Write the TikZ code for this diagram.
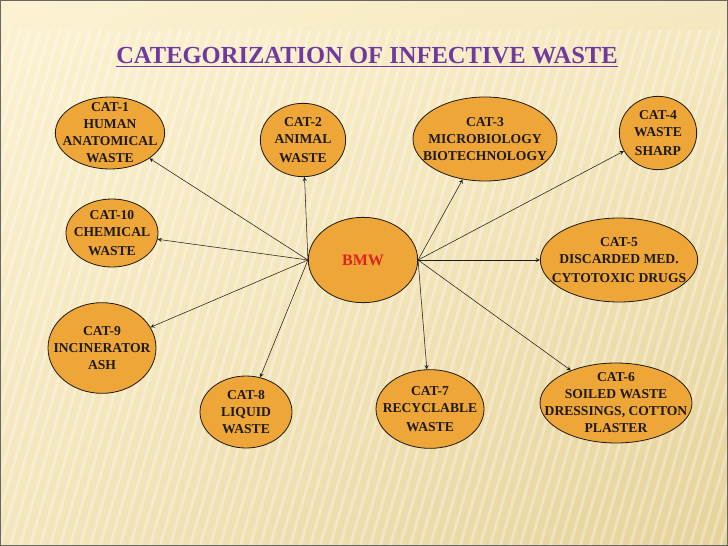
\documentclass[tikz,border=0pt]{standalone}
\usepackage{fontspec}
\setmainfont{Liberation Serif}
\usetikzlibrary{shapes.geometric,shadings}

\definecolor{creamtop}{HTML}{FCF2D2}
\definecolor{creambot}{HTML}{E6D29A}
\definecolor{catorange}{HTML}{EEA638}
\definecolor{titlepurple}{HTML}{6E3A9E}
\definecolor{bmwred}{HTML}{E0231A}
\definecolor{inkdark}{HTML}{1E1A14}

\tikzset{
    catnode/.style={ellipse, draw=inkdark, fill=catorange, line width=0.6pt,
        inner sep=0pt},
    cattext/.style={align=center, text=inkdark, inner sep=0pt,
        font=\bfseries\fontsize{10.2}{12.75}\selectfont},
    catarrow/.style={->, >=stealth, thin, inkdark}
}

\begin{document}
\begin{tikzpicture}[x=0.75pt, y=-0.75pt]
    \useasboundingbox (0,0) rectangle (728,546);
    % Fond
    \shade[upper left=creamtop, upper right=creamtop!70!creambot,
        lower left=creamtop!60!creambot, lower right=creambot]
        (0,0) rectangle (728,546);
    \begin{scope}
        \clip (0,30) rectangle (728,546);
        \foreach \k in {-300,-290,...,740}
            \draw[white, opacity=0.3, line width=2.2pt] (\k,546) -- (\k+150,30);
    \end{scope}
    \draw[gray!80!black, line width=0.8pt] (0,0) rectangle (728,546);

    % Titre
    \node[text=titlepurple, font=\bfseries\fontsize{18.4}{21}\selectfont] (title) at (367,57)
        {\underline{CATEGORIZATION OF INFECTIVE WASTE}};

    % Centre
    \node[catnode, minimum width=82pt, minimum height=64pt,
        label={[cattext, text=bmwred, font=\bfseries\fontsize{12}{14}\selectfont]center:BMW}]
        (bmw) at (363,260) {};

    % Categories
    \node[catnode, minimum width=82pt, minimum height=54pt,
        label={[cattext]center:CAT-1\\HUMAN\\ANATOMICAL\\WASTE}] (cat1) at (110,133) {};
    \node[catnode, minimum width=64pt, minimum height=55pt,
        label={[cattext]center:CAT-2\\ANIMAL\\[2pt]WASTE}] (cat2) at (303,140) {};
    \node[catnode, minimum width=108pt, minimum height=63pt,
        label={[cattext]center:CAT-3\\MICROBIOLOGY\\BIOTECHNOLOGY}] (cat3) at (485,139) {};
    \node[catnode, minimum width=58pt, minimum height=55pt,
        label={[cattext]center:CAT-4\\WASTE\\[2pt]SHARP}] (cat4) at (658,133) {};
    \node[catnode, minimum width=118pt, minimum height=63pt,
        label={[cattext]center:CAT-5\\DISCARDED MED.\\[2pt]CYTOTOXIC DRUGS}] (cat5) at (619,260) {};
    \node[catnode, minimum width=114pt, minimum height=60pt,
        label={[cattext]center:CAT-6\\SOILED WASTE\\DRESSINGS, COTTON\\PLASTER}] (cat6) at (616,403) {};
    \node[catnode, minimum width=81pt, minimum height=59pt,
        label={[cattext]center:CAT-7\\RECYCLABLE\\[2pt]WASTE}] (cat7) at (430,409) {};
    \node[catnode, minimum width=69pt, minimum height=54pt,
        label={[cattext]center:CAT-8\\LIQUID\\WASTE}] (cat8) at (246,412) {};
    \node[catnode, minimum width=81pt, minimum height=68pt,
        label={[cattext]center:CAT-9\\INCINERATOR\\ASH}] (cat9) at (102,348) {};
    \node[catnode, minimum width=69pt, minimum height=51pt,
        label={[cattext]center:CAT-10\\CHEMICAL\\[2pt]WASTE}] (cat10) at (112,233) {};

    % Fleches
    \foreach \c in {cat1,cat2,cat10,cat9,cat8}
        \draw[catarrow] (bmw.west) -- (\c);
    \foreach \c in {cat3,cat4,cat5,cat6,cat7}
        \draw[catarrow] (bmw.east) -- (\c);
\end{tikzpicture}
\end{document}
